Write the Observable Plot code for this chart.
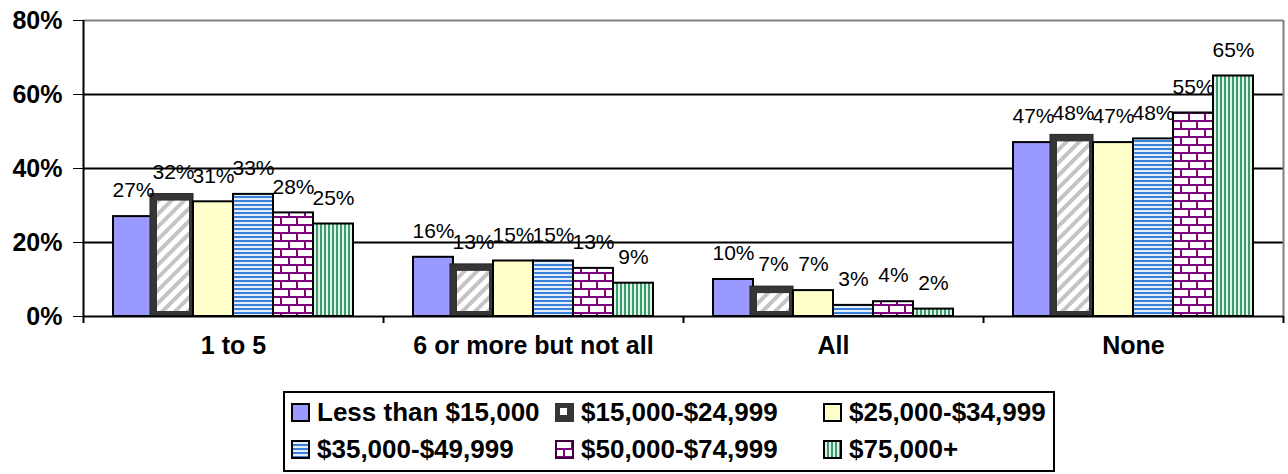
<!DOCTYPE html>
<html>
<head>
<meta charset="utf-8">
<script src="https://cdn.jsdelivr.net/npm/d3@7"></script>
<script src="https://cdn.jsdelivr.net/npm/@observablehq/plot@0.6"></script>
<style>
  html, body { margin: 0; padding: 0; background: #fff; }
  body { width: 1288px; height: 474px; overflow: hidden; font-family: "Liberation Sans", Arial, sans-serif; }
  #legend {
    box-sizing: border-box;
    margin: 11px 0 0 283px;
    width: 772px;
    border: 2px solid #000;
    padding: 1px 0 2px 6px;
    display: grid;
    grid-template-columns: 264px 268px auto;
    font-weight: bold;
    font-size: 26px;
    line-height: 37px;
    color: #000;
  }
  #legend .item { display: flex; align-items: center; white-space: nowrap; }
  #legend svg { margin-right: 7px; flex: none; }
</style>
</head>
<body>
<svg width="0" height="0" style="position:absolute">
  <defs>
    <pattern id="pDiag" patternUnits="userSpaceOnUse" width="9" height="9" patternTransform="rotate(45)">
      <rect width="9" height="9" fill="#ffffff"/>
      <rect width="4" height="9" fill="#c4c4c4"/>
    </pattern>
    <pattern id="pHoriz" patternUnits="userSpaceOnUse" width="4" height="4">
      <rect width="4" height="4" fill="#e4eefb"/>
      <rect width="4" height="2" fill="#3b80d8"/>
    </pattern>
    <pattern id="pBrick" patternUnits="userSpaceOnUse" width="16" height="16">
      <rect width="16" height="16" fill="#ffffff"/>
      <rect y="0" width="16" height="2" fill="#800080"/>
      <rect y="8" width="16" height="2" fill="#800080"/>
      <rect x="0" y="0" width="2" height="8" fill="#800080"/>
      <rect x="8" y="8" width="2" height="8" fill="#800080"/>
    </pattern>
    <pattern id="pVert" patternUnits="userSpaceOnUse" width="4" height="4">
      <rect width="4" height="4" fill="#dff3e8"/>
      <rect width="2" height="4" fill="#3d9c6d"/>
    </pattern>
  </defs>
</svg>
<div id="chart"></div>
<div id="legend"></div>
<script>
// ---- data ----
const categories = ["1 to 5", "6 or more but not all", "All", "None"];
const series = ["Less than $15,000", "$15,000-$24,999", "$25,000-$34,999", "$35,000-$49,999", "$50,000-$74,999", "$75,000+"];
const lessThan15k = [27, 16, 10, 47];
const from15kTo25k = [32, 13, 7, 48];
const from25kTo35k = [31, 15, 7, 47];
const from35kTo50k = [33, 15, 3, 48];
const from50kTo75k = [28, 13, 4, 55];
const over75k = [25, 9, 2, 65];
const yTicks = [0, 20, 40, 60, 80];

const seriesValues = [lessThan15k, from15kTo25k, from25kTo35k, from35kTo50k, from50kTo75k, over75k];
const rows = [];
series.forEach((s, si) => categories.forEach((c, ci) => rows.push({cat: c, series: s, si, value: seriesValues[si][ci]})));

// ---- styles ----
const fills = ["#9999ff", "url(#pDiag)", "#ffffcc", "url(#pHoriz)", "url(#pBrick)", "url(#pVert)"];
const W = 1288, mL = 83, mR = 5;
const facetW = (W - mL - mR) / categories.length;
const outerPad = 0.75;
const step = facetW / (series.length + 2 * outerPad);
const edgeOffset = step * outerPad + step / 2;
const yMax = d3.max(yTicks);

const marks = [
  Plot.ruleY(yTicks.filter(t => t > 0 && t < yMax), {stroke: "#000", strokeWidth: 2}),
  Plot.ruleY([yMax], {stroke: "#808080", strokeWidth: 2}),
  Plot.ruleX([{cat: categories[categories.length - 1]}], {fx: "cat", x: () => series[series.length - 1], dx: edgeOffset, y1: () => 0, y2: () => yMax, stroke: "#808080", strokeWidth: 2})
];
series.forEach((s, si) => {
  const data = rows.filter(d => d.si === si);
  if (si === 1) {
    marks.push(Plot.barY(data, {fx: "cat", x: "series", y: "value", fill: "#363636", stroke: "#222", strokeWidth: 1, insetLeft: -3, insetTop: -4}));
    marks.push(Plot.barY(data, {fx: "cat", x: "series", y: "value", fill: fills[si], insetLeft: 4, insetRight: 4, insetTop: 3, insetBottom: 5}));
  } else {
    marks.push(Plot.barY(data, {fx: "cat", x: "series", y: "value", fill: fills[si], stroke: "#000", strokeWidth: 2}));
  }
});
marks.push(
  Plot.ruleY([0], {stroke: "#000", strokeWidth: 2}),
  Plot.ruleX([{cat: categories[0]}], {fx: "cat", x: () => series[0], dx: -edgeOffset, y1: () => yMax, y2: () => 0, insetBottom: -7, stroke: "#000", strokeWidth: 2}),
  Plot.ruleX(categories.map(c => ({cat: c})), {fx: "cat", x: () => series[series.length - 1], dx: edgeOffset, y1: () => 0, y2: () => 0, insetBottom: -7, stroke: "#000", strokeWidth: 2}),
  Plot.text(rows, {fx: "cat", x: "series", y: "value", text: d => d.value + "%", dy: -26, lineAnchor: "middle", fontSize: 21, fontWeight: "normal", fill: "#000"})
);

const chart = Plot.plot({
  width: W,
  height: 380,
  marginLeft: mL,
  marginRight: mR,
  marginTop: 20,
  marginBottom: 64,
  fx: {domain: categories, padding: 0, label: null, tickSize: 0, tickPadding: 20, axis: "bottom"},
  x: {domain: series, paddingInner: 0, paddingOuter: outerPad, axis: null},
  y: {domain: [0, yMax], ticks: yTicks, tickFormat: d => d + "%", tickSize: 10, tickPadding: 11, label: null, fontSize: 26},
  style: {fontFamily: "'Liberation Sans', Arial, sans-serif", fontSize: "25px", fontWeight: "bold", color: "#000", background: "#fff", overflow: "visible"},
  marks
});
document.getElementById("chart").appendChild(chart);

// ---- legend ----
const legend = d3.select("#legend");
series.forEach((s, i) => {
  const item = legend.append("div").attr("class", "item");
  const sw = item.append("svg").attr("width", 19).attr("height", 19);
  if (i === 1) {
    sw.append("rect").attr("x", 0).attr("y", 0).attr("width", 19).attr("height", 19).attr("fill", "#363636");
    sw.append("rect").attr("x", 5).attr("y", 5).attr("width", 7).attr("height", 7).attr("fill", "#fff");
  } else {
    sw.append("rect").attr("x", 1).attr("y", 1).attr("width", 17).attr("height", 17).attr("fill", fills[i]).attr("stroke", i === 4 ? "#400040" : "#000").attr("stroke-width", 2);
  }
  item.append("span").text(s);
});
</script>
</body>
</html>
